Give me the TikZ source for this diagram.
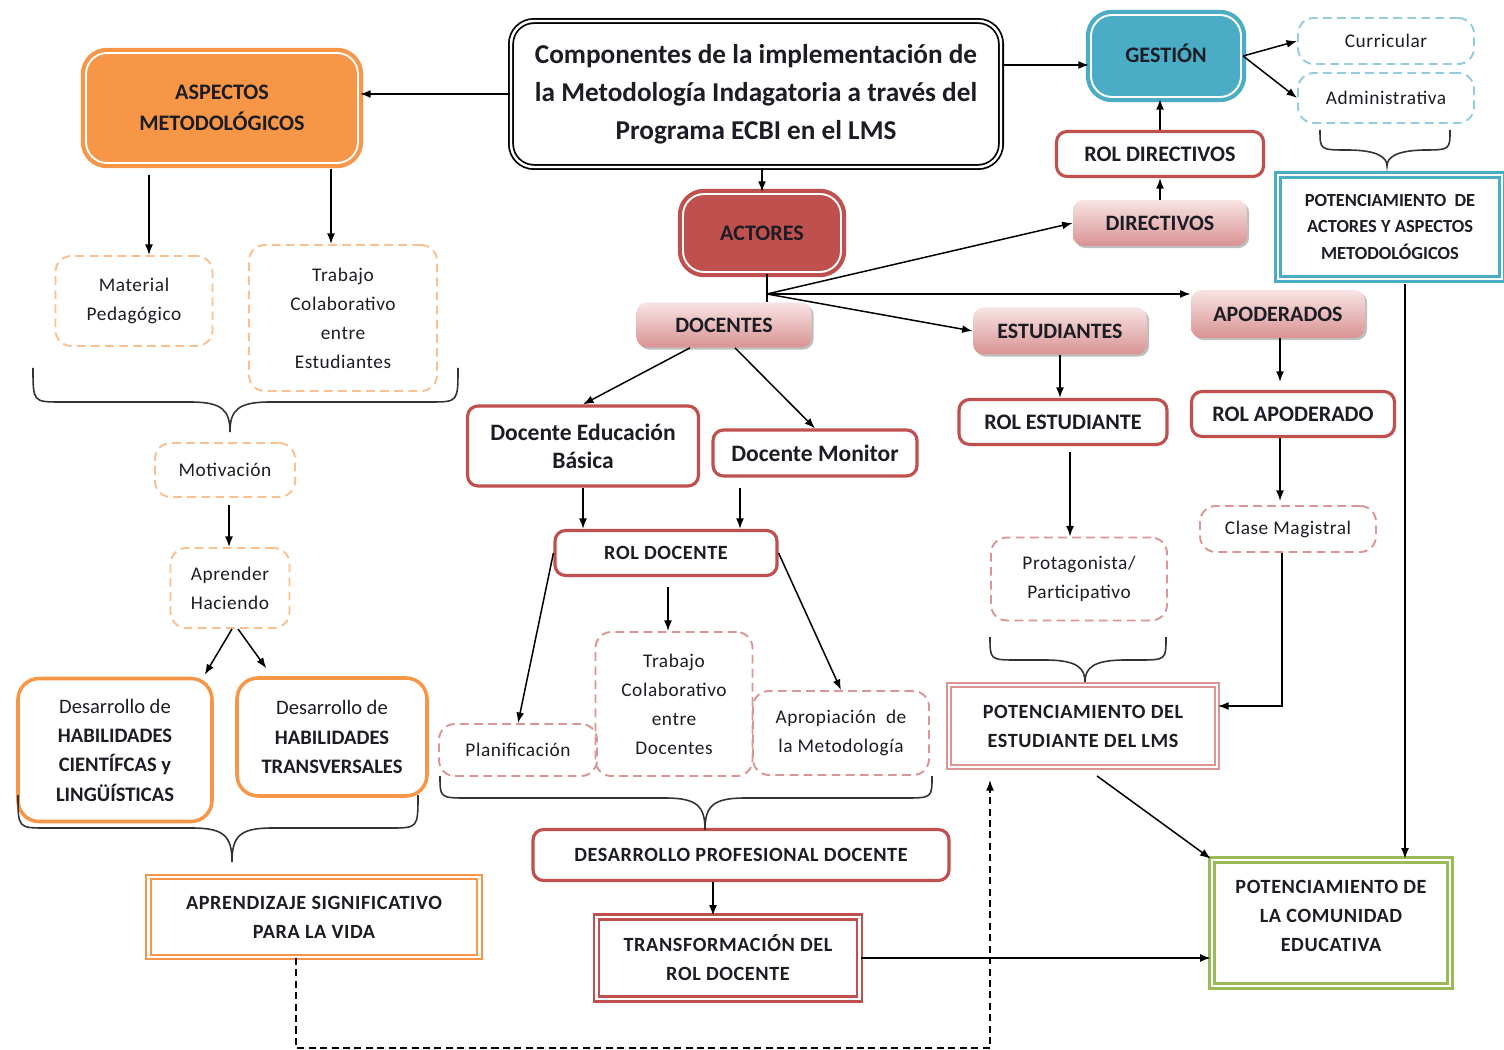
\documentclass[tikz,border=0pt]{standalone}
\usepackage{fontspec}
\setmainfont{Carlito}
\newfontfamily\spc[LetterSpace=3]{Carlito}
\usetikzlibrary{arrows.meta,calc,shadows}
\definecolor{org}{HTML}{F79646}
\definecolor{orgL}{HTML}{FAC090}
\definecolor{redc}{HTML}{C0504D}
\definecolor{redL}{HTML}{D99694}
\definecolor{bluec}{HTML}{4BACC6}
\definecolor{blueL}{HTML}{93CDDD}
\definecolor{greenc}{HTML}{9BBB59}
\definecolor{pinkT}{HTML}{F8E4E4}
\definecolor{pinkB}{HTML}{D99292}
\definecolor{txt}{HTML}{1C1C24}
\newcommand\fTitle{\fontsize{15.5}{21.5}\selectfont\bfseries}
\newcommand\fBig{\fontsize{12.6}{17.5}\selectfont\bfseries}
\newcommand\fPink{\fontsize{12.5}{17}\selectfont\bfseries}
\newcommand\fRol{\fontsize{12.6}{17}\selectfont\bfseries}
\newcommand\fDoc{\fontsize{13.4}{16}\selectfont\bfseries}
\newcommand\fSmall{\fontsize{11}{16.5}\spc}
\newcommand\fCaps{\fontsize{11.5}{16.5}\spc\bfseries}
\newcommand\fCapT{\fontsize{10.5}{15.3}\selectfont\bfseries}
\newcommand\fHab{\fontsize{11.7}{16.7}\selectfont}
\newcommand\mybrace[6]{\draw[bracel] (#1,#3) .. controls (#1,#4) .. (#1+28,#4) -- (#5-40,#4) .. controls (#5-8,#4) and (#5,#4+8) .. (#5,#6) .. controls (#5,#4+8) and (#5+8,#4) .. (#5+40,#4) -- (#2-28,#4) .. controls (#2,#4) .. (#2,#3);}
\begin{document}
\begin{tikzpicture}[x=0.02cm,y=-0.02cm,
  box/.style={inner sep=0pt, align=center, text=txt},
  wh/.style 2 args={minimum width=#1*0.02cm, minimum height=#2*0.02cm},
  mainbox/.style={box, font=\fTitle, draw=black, line width=1pt, double=white, double distance=1.4pt, rounded corners=13pt},
  bigbox/.style={box, font=\fBig, fill=#1, draw=#1, line width=2.4pt, double=white, double distance=1.1pt, rounded corners=12pt},
  rbox/.style={box, draw=redc, line width=1.8pt, fill=white, rounded corners=6pt},
  pbox/.style={box, font=\fPink, top color=pinkT, bottom color=pinkB, rounded corners=6pt,
     drop shadow={shadow xshift=1.2pt, shadow yshift=-1.2pt, opacity=0.25, fill=black}},
  dbox/.style={box, font=\fSmall, draw=#1, dash pattern=on 5pt off 3pt, line width=1.1pt, rounded corners=9pt},
  obox/.style={box, font=\fHab, draw=org, line width=2pt, fill=white, rounded corners=12pt},
  dblbox/.style={box, font=\fCaps, draw=#1, double=white, line width=1.1pt, double distance=1.3pt},
  arr/.style={draw=black, line width=0.85pt, -{Latex[length=6pt,width=4.5pt]}},
  plain/.style={draw=black, line width=0.85pt},
  bracel/.style={draw=black!80, line width=0.9pt},
  dasharr/.style={arr, dash pattern=on 4pt off 2.5pt}
]
\useasboundingbox (0,0) rectangle (1504,1050);

% ---------- nodes ----------
\node[mainbox, wh={490}{146}] (title) at (756,94) {Componentes de la implementación de\\la Metodología Indagatoria a través del\\Programa ECBI en el LMS};
\node[bigbox=org, wh={272}{110}] (asp) at (222,108) {ASPECTOS\\METODOLÓGICOS};
\node[bigbox=bluec, wh={150}{82}] (ges) at (1166,56) {\raisebox{3.4pt}{GESTIÓN}};
\node[dbox=blueL, wh={176}{46}] (cur) at (1386,41) {Curricular};
\node[dbox=blueL, wh={176}{50}] (adm) at (1386,98) {Administrativa};
\node[dblbox=bluec, font=\fCapT, wh={224}{104}, line width=1.6pt, double distance=1.6pt] (potact) at (1390,227) {POTENCIAMIENTO~~DE\\ACTORES~Y~ASPECTOS\\METODOLÓGICOS};
\node[rbox, font=\fRol, wh={207}{45}] (roldir) at (1160,154) {ROL DIRECTIVOS};
\node[pbox, wh={174}{46}] (dir) at (1160,223) {DIRECTIVOS};
\node[bigbox=redc, wh={158}{78}] (act) at (762,233) {ACTORES};
\node[pbox, wh={175}{45}] (doc) at (724,325) {DOCENTES};
\node[pbox, wh={174}{47}] (est) at (1060,331) {ESTUDIANTES};
\node[pbox, wh={174}{48}] (apo) at (1278,314) {APODERADOS};
\node[rbox, font=\fDoc, wh={231}{80}] (deb) at (583,446) {Docente Educación\\Básica};
\node[rbox, font=\fDoc, wh={204}{46}] (dmon) at (815,453) {Docente Monitor};
\node[rbox, font=\fCaps, wh={222}{45}] (roldoc) at (666,553) {ROL DOCENTE};
\node[rbox, font=\fRol, wh={208}{45}] (rolest) at (1063,422) {ROL ESTUDIANTE};
\node[rbox, font=\fRol, wh={203}{45}] (rolapo) at (1293,414) {ROL APODERADO};
\node[dbox=redL, wh={176}{46}] (clase) at (1288,529) {Clase Magistral};
\node[dbox=redL, wh={176}{83}] (prot) at (1079,579) {Protagonista/\\Participativo};
\node[dblbox=redL, wh={268}{82}] (potest) at (1083,726) {POTENCIAMIENTO DEL\\ESTUDIANTE DEL LMS};
\node[dblbox=greenc, wh={238}{126}, line width=1.5pt, double distance=1.5pt, text depth=0.3cm] (potcom) at (1331,923) {POTENCIAMIENTO DE\\LA COMUNIDAD\\EDUCATIVA};
\node[dbox=orgL, wh={157}{90}] (mat) at (134,301) {Material\\Pedagógico};
\node[dbox=orgL, wh={188}{146}] (trabe) at (343,318) {Trabajo\\Colaborativo\\entre\\Estudiantes};
\node[dbox=orgL, wh={140}{54}] (mot) at (225,470) {Motivación};
\node[dbox=orgL, wh={119}{80}] (apr) at (230,588) {Aprender\\Haciendo};
\node[obox, wh={194}{143}] (dhc) at (115,750) {Desarrollo de\\\textbf{HABILIDADES}\\\textbf{CIENTÍFCAS y}\\\textbf{LINGÜÍSTICAS}};
\node[obox, wh={190}{118}] (dht) at (332,737) {Desarrollo de\\\textbf{HABILIDADES}\\\textbf{TRANSVERSALES}};
\node[dblbox=org, wh={331}{80}] (apren) at (314,917) {APRENDIZAJE SIGNIFICATIVO\\PARA LA VIDA};
\node[dbox=redL, wh={158}{52}] (plan) at (518,750) {Planificación};
\node[dbox=redL, wh={157}{144}] (trabd) at (674,704) {Trabajo\\Colaborativo\\entre\\Docentes};
\node[dbox=redL, wh={176}{84}] (apro) at (841,733) {Apropiación~~de\\la Metodología};
\node[rbox, font=\fCaps, wh={416}{51}] (desp) at (741,855) {DESARROLLO PROFESIONAL DOCENTE};
\node[dblbox=redc, wh={263}{82}, line width=1.5pt, double distance=1.5pt] (trans) at (728,958) {TRANSFORMACIÓN DEL\\ROL DOCENTE};

% ---------- braces ----------
\mybrace{33}{458}{368}{402}{230}{432}
\mybrace{18}{418}{795}{828}{232}{862}
\mybrace{440}{932}{776}{798}{705}{830}
\mybrace{990}{1166}{637}{660}{1085}{682}
\mybrace{1320}{1450}{130}{150}{1387}{166}

% ---------- helper coordinates ----------
\coordinate (gesin) at ($(ges.west)+(0,9)$);
\coordinate (j) at (767,294);
\coordinate (docL) at ($(doc.south)+(-34,0)$);
\coordinate (docR) at ($(doc.south)+(11,0)$);
\coordinate (dmonS) at ($(dmon.south)+(-75,10)$);
\coordinate (rdS) at ($(roldoc.south)+(2,10)$);
\coordinate (reS) at ($(rolest.south)+(7,6)$);
\coordinate (apS) at ($(apo.south)+(2,0)$);
\coordinate (clS) at ($(clase.south)+(-6,0)$);
\coordinate (peIn) at ($(potest.east)+(0,-20)$);
\coordinate (peS) at ($(potest.south)+(14,8)$);
\coordinate (paS) at ($(potact.south)+(15,4)$);
\coordinate (dpS) at ($(desp.south)+(-28,0)$);
\coordinate (asL) at ($(asp.south)+(-73,10)$);
\coordinate (asR) at ($(asp.south)+(109,4)$);
\coordinate (moS) at ($(mot.south)+(4,7)$);
\coordinate (aprL) at ($(apr.south)+(2,0)$);
\coordinate (aprR) at ($(apr.south)+(8,0)$);
\coordinate (dhcIn) at ($(dhc.north east)+(-9,-2)$);
\coordinate (dhtIn) at ($(dht.north west)+(31,-8)$);
\coordinate (apS2) at ($(apren.south)+(-18,0)$);
\coordinate (dcorner) at (990,1048);
\coordinate (dend) at (990,780);

% ---------- connectors ----------
\draw[arr] (title.west) -- (title.west -| asp.east);
\draw[arr] (gesin -| title.east) -- (gesin);
\draw[arr] (act.north |- title.south) -- (act.north);
\draw[arr] (ges.east) -- (cur.west);
\draw[arr] (ges.east) -- (adm.west);
\draw[arr] (roldir.north) -- (roldir.north |- ges.south);
\draw[arr] (dir.north) -- (roldir.south);

\draw[plain] (j |- act.south) -- (j |- doc.north);
\draw[arr] (j) -- (dir.west);
\draw[arr] (j) -- (j -| apo.west);
\draw[arr] (j) -- (est.west);

\draw[arr] (docL) -- (deb.north);
\draw[arr] (docR) -- (dmon.north);
\draw[arr] (deb.south) -- (deb.south |- roldoc.north);
\draw[arr] (dmonS) -- (dmonS |- roldoc.north);
\draw[arr] (roldoc.west) -- (plan.north);
\draw[arr] (rdS) -- (rdS |- trabd.north);
\draw[arr] (roldoc.east) -- (apro.north);

\draw[arr] (est.south) -- (est.south |- rolest.north);
\draw[arr] (reS) -- (reS |- prot.north);
\draw[arr] (apS) -- ($(apS |- rolapo.north)+(0,-8)$);
\draw[arr] (apS |- rolapo.south) -- ($(apS |- clase.north)+(0,-4)$);
\draw[arr] (clS) |- (peIn);
\draw[arr] (peS) -- (potcom.north west);
\draw[arr] (paS) -- (paS |- potcom.north);
\draw[arr] (trans.east) -- (trans.east -| potcom.west);
\draw[arr] (dpS) -- (dpS |- trans.north);

\draw[arr] (asL) -- (asL |- mat.north);
\draw[arr] (asR) -- (asR |- trabe.north);
\draw[arr] (moS) -- (moS |- apr.north);
\draw[arr] (aprL) -- (dhcIn);
\draw[arr] (aprR) -- (dhtIn);

\draw[dasharr] (apS2) |- (dcorner) -- (dend);
\end{tikzpicture}
\end{document}
